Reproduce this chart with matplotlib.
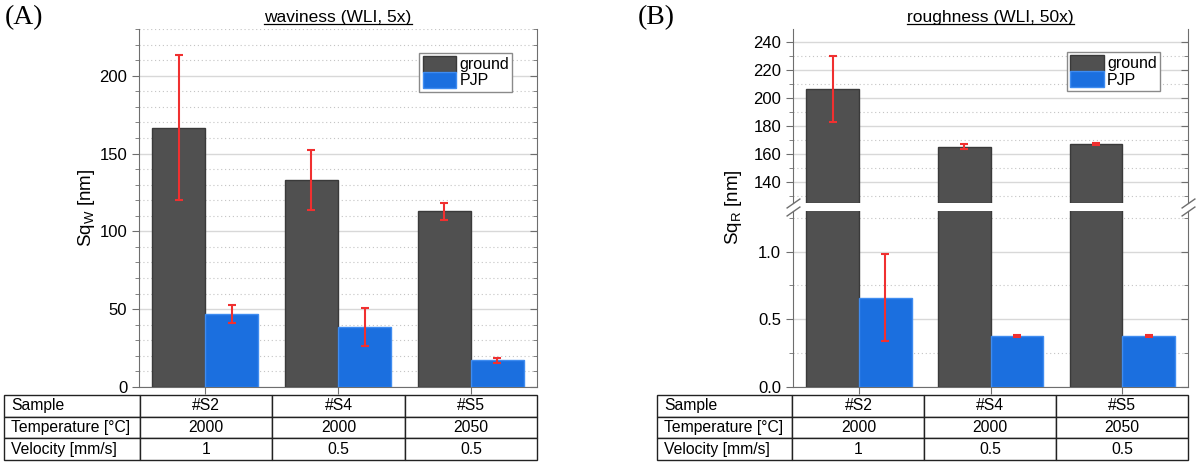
import numpy as np
import matplotlib
matplotlib.use("Agg")
import matplotlib.pyplot as plt
from matplotlib.patches import Patch
from matplotlib.ticker import MultipleLocator

plt.rcParams['font.family'] = ['Liberation Sans', 'DejaVu Sans']
plt.rcParams['font.size'] = 12

samples = ['#S2', '#S4', '#S5']
temperature = ['2000', '2000', '2050']
velocity = ['1', '0.5', '0.5']

# waviness (WLI, 5x)
wav_ground = [166.5, 133.0, 113.0]
wav_ground_err = [46.5, 19.0, 5.4]
wav_pjp = [47.0, 38.5, 17.1]
wav_pjp_err = [5.6, 12.0, 1.6]

# roughness (WLI, 50x)
rough_ground = [206.0, 165.2, 167.3]
rough_ground_err = [23.6, 1.5, 0.8]
rough_pjp = [0.661, 0.378, 0.378]
rough_pjp_err = [0.323, 0.006, 0.006]

c_ground = '#505050'
c_pjp = '#1b6fdf'
c_err = '#f03030'
c_spine = '#6e6e6e'

W, H = 1200, 463
fig = plt.figure(figsize=(12, 4.63), dpi=100)

def fa(x0, y0, x1, y1):
    # pixel box -> figure fraction axes
    return fig.add_axes([x0 / W, 1 - y1 / H, (x1 - x0) / W, (y1 - y0) / H])

x = np.arange(1, len(samples) + 1)
bw = 0.4

def draw_bars(ax, g, ge, p, pe, bottom=0):
    ax.bar(x - bw / 2, np.array(g) - bottom, bw, bottom=bottom, color=c_ground,
           edgecolor='#3a3a3a', linewidth=1, zorder=3)
    ax.bar(x + bw / 2, p, bw, color=c_pjp, edgecolor='#3f8cf0', linewidth=1, zorder=3)
    ekw = dict(fmt='none', ecolor=c_err, elinewidth=1.5, capsize=3, capthick=1.5, zorder=4)
    ax.errorbar(x - bw / 2, g, yerr=ge, **ekw)
    ax.errorbar(x + bw / 2, p, yerr=pe, **ekw)

def style(ax, major, minor):
    ax.set_xlim(0.5, 3.5)
    ax.yaxis.set_major_locator(MultipleLocator(major))
    ax.yaxis.set_minor_locator(MultipleLocator(minor))
    ax.grid(True, which='major', axis='y', color='#d8d8d8', linewidth=1, zorder=0)
    ax.grid(True, which='minor', axis='y', color='#c4c4c4', linestyle=(0, (1, 2.5)),
            linewidth=0.8, zorder=0)
    ax.set_axisbelow(True)
    ax.spines['top'].set_visible(False)
    for s in ('left', 'right', 'bottom'):
        ax.spines[s].set_color(c_spine)
    ax.tick_params(axis='y', which='both', direction='out', color=c_spine, labelsize=12)
    ax.tick_params(axis='y', which='major', length=5)
    ax.tick_params(axis='y', which='minor', length=3)
    ax.tick_params(axis='y', which='both', right=True)
    ax.set_xticks(x)
    ax.set_xticklabels([])
    ax.tick_params(axis='x', direction='out', length=5, color=c_spine)

def inward_right(ax):
    # right side ticks point inward, left side outward
    for t in ax.yaxis.get_major_ticks() + ax.yaxis.get_minor_ticks():
        t.tick2line.set_marker(matplotlib.lines.TICKLEFT)

def add_legend(ax, loc_xy):
    handles = [Patch(facecolor=c_ground, edgecolor='#3a3a3a', label='ground'),
               Patch(facecolor=c_pjp, edgecolor='#3f8cf0', label='PJP')]
    leg = ax.legend(handles=handles, loc='upper right', bbox_to_anchor=loc_xy,
                    fontsize=11.5, handlelength=2.1, handleheight=1.15, labelspacing=0.0,
                    borderpad=0.2, handletextpad=0.2, borderaxespad=0,
                    fancybox=False, framealpha=1)
    leg.get_frame().set_edgecolor('#8a8a8a')
    leg.get_frame().set_linewidth(1)

def add_table(x0, x1):
    tax = fa(x0, 395, x1, 460)
    tax.axis('off')
    rows = [['Sample'] + samples,
            ['Temperature [°C]'] + temperature,
            ['Velocity [mm/s]'] + velocity]
    cw = 136 / 533
    ow = (1 - cw) / 3
    tbl = tax.table(cellText=rows, cellLoc='center', colWidths=[cw, ow, ow, ow],
                    bbox=[0, 0, 1, 1])
    tbl.auto_set_font_size(False)
    tbl.set_fontsize(11.3)
    for (r, c), cell in tbl.get_celld().items():
        cell.set_edgecolor('#222222')
        cell.set_linewidth(1)
        if c == 0:
            cell.get_text().set_ha('left')
            cell.PAD = 0.05

# ---- panel A: waviness
axA = fa(139, 29, 537, 387)
draw_bars(axA, wav_ground, wav_ground_err, wav_pjp, wav_pjp_err)
axA.set_ylim(0, 230)
style(axA, 50, 10)
inward_right(axA)
axA.set_ylabel('Sq$_\\mathregular{W}$ [nm]', fontsize=13.5, labelpad=2)
axA.set_title('waviness (WLI, 5x)', fontsize=12.5, pad=5)
add_legend(axA, (0.938, 0.934))
add_table(4, 537)

# ---- panel B: roughness with broken axis
axBu = fa(793, 29, 1188, 203)
axBl = fa(793, 211, 1188, 387)
draw_bars(axBu, rough_ground, rough_ground_err, rough_pjp, rough_pjp_err, bottom=125)
draw_bars(axBl, rough_ground, rough_ground_err, rough_pjp, rough_pjp_err)
axBu.set_ylim(125, 249)
axBl.set_ylim(0, 1.3)
style(axBu, 20, 10)
style(axBl, 0.5, 0.25)
inward_right(axBu)
inward_right(axBl)
axBu.spines['bottom'].set_visible(False)
axBu.tick_params(axis='x', bottom=False)
axBl.yaxis.set_major_formatter(matplotlib.ticker.FormatStrFormatter('%.1f'))
axBu.set_title('roughness (WLI, 50x)', fontsize=12.5, pad=5)
add_legend(axBu, (0.929, 0.868))
add_table(657, 1188)
fig.text(733 / W, 1 - 207 / H, 'Sq$_\\mathregular{R}$ [nm]', rotation=90,
         fontsize=13.5, ha='center', va='center')

# break marks
bk = dict(marker=[(-1, -0.7), (1, 0.7)], markersize=10, linestyle='none',
          color=c_spine, mec=c_spine, mew=1, clip_on=False)
axBu.plot([0, 1], [0, 0], transform=axBu.transAxes, **bk)
axBl.plot([0, 1], [1, 1], transform=axBl.transAxes, **bk)

# panel letters
fig.text(5 / W, 1 - 18 / H, '(A)', fontsize=20, family=['Liberation Serif'], va='center')
fig.text(638 / W, 1 - 18 / H, '(B)', fontsize=20, family=['Liberation Serif'], va='center')

# underline titles
fig.canvas.draw()
r = fig.canvas.get_renderer()
for ax in (axA, axBu):
    bb = ax.title.get_window_extent(r)
    y = bb.y0 + 1
    fig.add_artist(matplotlib.lines.Line2D([bb.x0 / W, bb.x1 / W], [y / H, y / H],
                                           color='black', linewidth=0.9))

fig.savefig('out.png', dpi=100)
